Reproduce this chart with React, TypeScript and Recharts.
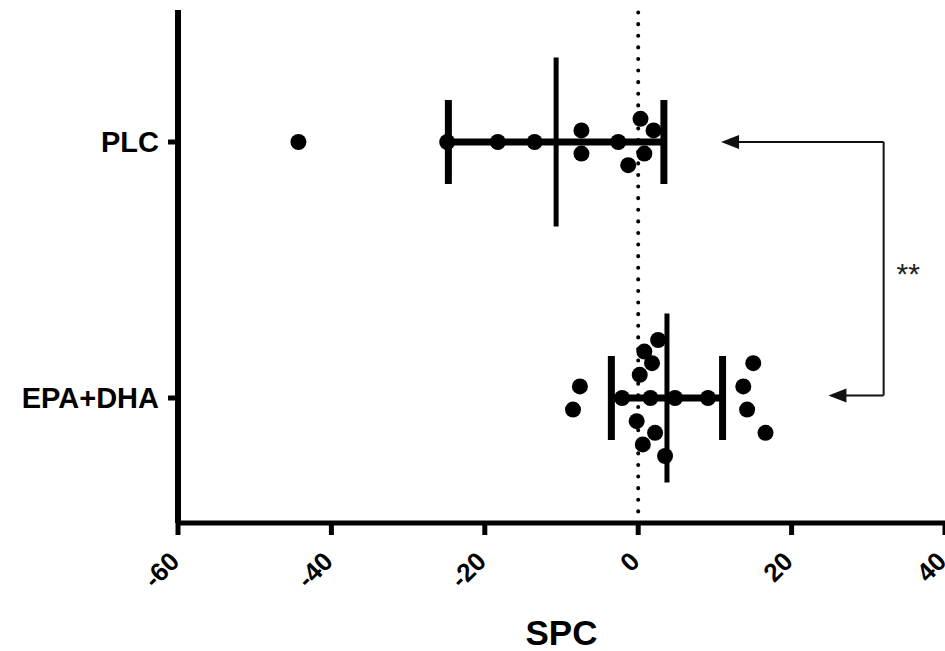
import React from 'react';
import {
  ComposedChart,
  Scatter,
  XAxis,
  YAxis,
  ReferenceLine,
  ReferenceDot,
} from 'recharts';

// ---- data ----
const categories = ['EPA+DHA', 'PLC'];
const xTicks = [-60, -40, -20, 0, 20, 40];

// PLC values (SPC) and beeswarm lanes (stacking rows)
const plcValues = [-44.3, -24.9, -18.3, -13.5, -7.4, -7.4, -2.6, 0.3, 2.0, 0.8, -1.3];
const plcLanes = [0, 0, 0, 0, 1, -1, 0, 2, 1, -1, -2];

// EPA+DHA values (SPC) and beeswarm lanes
const epaValues = [-7.6, -8.5, -2.1, 1.6, 4.8, 9.1, 2.6, 0.8, 1.8, 0.2, -0.2, 2.2, 0.6, 3.5, 15.0, 13.7, 14.2, 16.6];
const epaLanes = [1, -1, 0, 0, 0, 0, 5, 4, 3, 2, -2, -3, -4, -5, 3, 1, -1, -3];

// mean and SD per category (index matches categories)
const means = [3.75, -10.7];
const sds = [7.25, 14.05];

const LANE_STEP = 0.0453;
const CAP_HALF = 0.164;
const MEAN_HALF = 0.33;

const plcData = plcValues.map((v, i) => ({ x: v, y: 1 + plcLanes[i] * LANE_STEP }));
const epaData = epaValues.map((v, i) => ({ x: v, y: 0 + epaLanes[i] * LANE_STEP }));

const FONT = '"Liberation Sans", Arial, Helvetica, sans-serif';

const Dot = (p: any) => <circle cx={p.cx} cy={p.cy} r={8} fill="#000" />;

const XTick = (p: any) => {
  const ax = p.x + 3;
  const ay = p.y + 26;
  return (
    <text
      x={ax}
      y={ay}
      transform={`rotate(-45 ${ax} ${ay})`}
      textAnchor="end"
      fontFamily={FONT}
      fontWeight="bold"
      fontSize={26}
      fill="#000"
    >
      {String(p.payload.value)}
    </text>
  );
};

const YTick = (p: any) => (
  <text
    x={p.x}
    y={p.y}
    dy="0.36em"
    textAnchor="end"
    fontFamily={FONT}
    fontWeight="bold"
    fontSize={29}
    fill="#000"
  >
    {categories[p.payload.value]}
  </text>
);

const ArrowHead = (p: any) => (
  <polygon
    points={`${p.cx},${p.cy} ${p.cx + 18},${p.cy - 7} ${p.cx + 18},${p.cy + 7}`}
    fill="#111"
  />
);

const Stars = (p: any) => (
  <text x={p.cx} y={p.cy} textAnchor="middle" fontFamily={FONT} fontSize={30} fill="#222">
    **
  </text>
);

export default function App() {
  return (
    <div style={{ position: 'absolute', left: 0, top: 0, width: 945, height: 651, background: '#fff' }}>
      <ComposedChart width={945} height={651} margin={{ top: 10, right: 0, bottom: 0, left: 0 }}>
        <XAxis
          type="number"
          dataKey="x"
          domain={[-60, 40]}
          ticks={xTicks}
          allowDataOverflow
          height={128}
          axisLine={{ stroke: '#000', strokeWidth: 5 }}
          tickLine={{ stroke: '#000', strokeWidth: 5 }}
          tickSize={12}
          tickMargin={2}
          tick={<XTick />}
          interval={0}
          label={{
            content: (props: any) => {
              const vb = props.viewBox || {};
              return (
                <text
                  x={vb.x + vb.width / 2}
                  y={645}
                  textAnchor="middle"
                  fontFamily={FONT}
                  fontWeight="bold"
                  fontSize={35}
                  fill="#000"
                >
                  SPC
                </text>
              );
            },
          }}
        />
        <YAxis
          type="number"
          dataKey="y"
          domain={[-0.4883, 1.5156]}
          ticks={[0, 1]}
          allowDataOverflow
          width={178}
          axisLine={{ stroke: '#000', strokeWidth: 6 }}
          tickLine={{ stroke: '#000', strokeWidth: 5 }}
          tickSize={10}
          tickMargin={9}
          tick={<YTick />}
          interval={0}
        />

        <ReferenceLine
          x={0}
          stroke="#000"
          strokeWidth={4}
          strokeDasharray="0.1 11.5"
          strokeLinecap="round"
        />

        {means.map((m, i) => (
          <ReferenceLine
            key={`h${i}`}
            segment={[{ x: m - sds[i], y: i }, { x: m + sds[i], y: i }]}
            stroke="#000"
            strokeWidth={7}
          />
        ))}
        {means.map((m, i) => (
          <ReferenceLine
            key={`cl${i}`}
            segment={[{ x: m - sds[i], y: i - CAP_HALF }, { x: m - sds[i], y: i + CAP_HALF }]}
            stroke="#000"
            strokeWidth={7}
          />
        ))}
        {means.map((m, i) => (
          <ReferenceLine
            key={`cr${i}`}
            segment={[{ x: m + sds[i], y: i - CAP_HALF }, { x: m + sds[i], y: i + CAP_HALF }]}
            stroke="#000"
            strokeWidth={7}
          />
        ))}
        {means.map((m, i) => (
          <ReferenceLine
            key={`m${i}`}
            segment={[{ x: m, y: i - MEAN_HALF }, { x: m, y: i + MEAN_HALF }]}
            stroke="#000"
            strokeWidth={5}
          />
        ))}

        <Scatter data={plcData} shape={Dot} isAnimationActive={false} />
        <Scatter data={epaData} shape={Dot} isAnimationActive={false} />

        {/* significance bracket */}
        <ReferenceLine segment={[{ x: 12, y: 1 }, { x: 32, y: 1 }]} stroke="#111" strokeWidth={2} />
        <ReferenceLine segment={[{ x: 32, y: 1 }, { x: 32, y: 0.01 }]} stroke="#111" strokeWidth={2} />
        <ReferenceLine segment={[{ x: 26, y: 0.01 }, { x: 32, y: 0.01 }]} stroke="#111" strokeWidth={2} />
        <ReferenceDot x={10.8} y={1} r={1} shape={ArrowHead} />
        <ReferenceDot x={24.8} y={0.01} r={1} shape={ArrowHead} />
        <ReferenceDot x={35.2} y={0.445} r={1} shape={Stars} />
      </ComposedChart>
    </div>
  );
}
